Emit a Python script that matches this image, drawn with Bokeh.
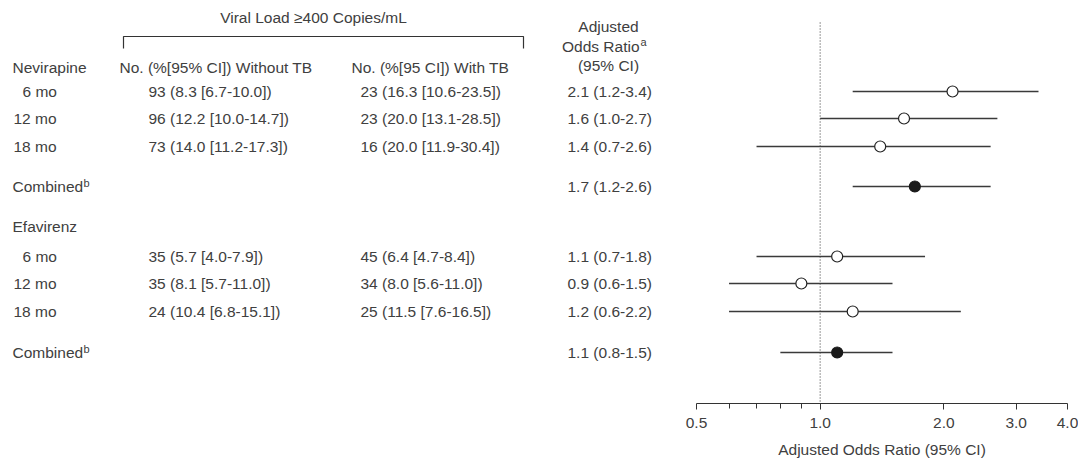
from bokeh.plotting import figure
from bokeh.layouts import row
from bokeh.models import Range1d, FixedTicker, PrintfTickFormatter
from bokeh.core.properties import value
from bokeh.embed import file_html
from bokeh.resources import INLINE

# ---------------- data ----------------
drugs = ["Nevirapine", "Efavirenz"]
periods = ["6 mo", "12 mo", "18 mo"]

nvp_n_without = [93, 96, 73]
nvp_pct_without = [8.3, 12.2, 14.0]
nvp_lo_without = [6.7, 10.0, 11.2]
nvp_hi_without = [10.0, 14.7, 17.3]
nvp_n_with = [23, 23, 16]
nvp_pct_with = [16.3, 20.0, 20.0]
nvp_lo_with = [10.6, 13.1, 11.9]
nvp_hi_with = [23.5, 28.5, 30.4]
nvp_or = [2.1, 1.6, 1.4]
nvp_or_lo = [1.2, 1.0, 0.7]
nvp_or_hi = [3.4, 2.7, 2.6]
nvp_comb = [1.7, 1.2, 2.6]

efv_n_without = [35, 35, 24]
efv_pct_without = [5.7, 8.1, 10.4]
efv_lo_without = [4.0, 5.7, 6.8]
efv_hi_without = [7.9, 11.0, 15.1]
efv_n_with = [45, 34, 25]
efv_pct_with = [6.4, 8.0, 11.5]
efv_lo_with = [4.7, 5.6, 7.6]
efv_hi_with = [8.4, 11.0, 16.5]
efv_or = [1.1, 0.9, 1.2]
efv_or_lo = [0.7, 0.6, 0.6]
efv_or_hi = [1.8, 1.5, 2.2]
efv_comb = [1.1, 0.8, 1.5]

axis_ticks = [0.5, 1.0, 2.0, 3.0, 4.0]
axis_minor = [0.6, 0.7, 0.8, 0.9]

# ---------------- layout (page pixels) ----------------
FONT = value("Liberation Sans")
FS = "15.5px"
TXT = "#404040"
AXIS_Y = 403
LEFT_W = 674

hdr_y = 67
nvp_rows = [91, 118, 146]
nvp_comb_y = 186
efv_hdr_y = 226
efv_rows = [256, 283, 311]
efv_comb_y = 352

col_label = 13
col_label6 = 22
col2 = 148
col3 = 360
col4 = 567


def cell(n, p, lo, hi):
    return f"{n} ({p:.1f} [{lo:.1f}-{hi:.1f}])"


def orcell(o, lo, hi):
    return f"{o:.1f} ({lo:.1f}-{hi:.1f})"


left = figure(frame_width=LEFT_W, frame_height=AXIS_Y, x_range=Range1d(0, LEFT_W),
              y_range=Range1d(AXIS_Y, 0), output_backend="svg",
              toolbar_location=None, min_border=0, outline_line_color=None,
              x_axis_location=None, y_axis_location=None)
left.grid.visible = False

xs, ys, ts = [], [], []


def add(x, y, t):
    xs.append(x); ys.append(y); ts.append(t)


add(12, hdr_y, drugs[0])
add(12, efv_hdr_y, drugs[1])
add(119, hdr_y, "No. (%[95% CI]) Without TB")
add(351, hdr_y, "No. (%[95 CI]) With TB")
for i, per in enumerate(periods):
    lx = col_label6 if i == 0 else col_label
    add(lx, nvp_rows[i], per)
    add(col2, nvp_rows[i], cell(nvp_n_without[i], nvp_pct_without[i], nvp_lo_without[i], nvp_hi_without[i]))
    add(col3, nvp_rows[i], cell(nvp_n_with[i], nvp_pct_with[i], nvp_lo_with[i], nvp_hi_with[i]))
    add(col4, nvp_rows[i], orcell(nvp_or[i], nvp_or_lo[i], nvp_or_hi[i]))
    add(lx, efv_rows[i], per)
    add(col2, efv_rows[i], cell(efv_n_without[i], efv_pct_without[i], efv_lo_without[i], efv_hi_without[i]))
    add(col3, efv_rows[i], cell(efv_n_with[i], efv_pct_with[i], efv_lo_with[i], efv_hi_with[i]))
    add(col4, efv_rows[i], orcell(efv_or[i], efv_or_lo[i], efv_or_hi[i]))
add(12, nvp_comb_y, "Combined")
add(12, efv_comb_y, "Combined")
add(col4, nvp_comb_y, orcell(*nvp_comb))
add(col4, efv_comb_y, orcell(*efv_comb))

left.text(x=xs, y=ys, text=ts, text_font=FONT, text_font_size=FS, text_color=TXT,
          text_baseline="middle", text_align="left")

# centered headers
left.text(x=[313, 608, 608], y=[17, 26, 65],
          text=["Viral Load \u2265400 Copies/mL", "Adjusted", "(95% CI)"],
          text_font=FONT, text_font_size=FS, text_color=TXT,
          text_baseline="middle", text_align="center")
left.text(x=[639], y=[46], text=["Odds Ratio"], text_font=FONT, text_font_size=FS,
          text_color=TXT, text_baseline="middle", text_align="right")
# superscripts
left.text(x=[640, 83, 83], y=[41, nvp_comb_y - 4, efv_comb_y - 4], text=["a", "b", "b"],
          text_font=FONT, text_font_size="11px", text_color=TXT,
          text_baseline="middle", text_align="left")
# bracket
left.line(x=[123, 123, 523, 523], y=[48, 36, 36, 48], line_color="#333333", line_width=1.2)

# ---------------- forest plot ----------------
right = figure(frame_width=371, frame_height=AXIS_Y, x_axis_type="log",
               x_range=Range1d(0.5, 4.0), y_range=Range1d(AXIS_Y, 0),
               output_backend="svg", toolbar_location=None,
               min_border_left=22, min_border_right=11, min_border_top=0, min_border_bottom=0,
               outline_line_color=None, y_axis_location=None)
right.grid.visible = False

right.segment(x0=[1.0], y0=[22], x1=[1.0], y1=[AXIS_Y], line_color="#555555",
              line_width=1.2, line_dash="1 2")

pt_y = nvp_rows + efv_rows
pt_or = nvp_or + efv_or
pt_lo = nvp_or_lo + efv_or_lo
pt_hi = nvp_or_hi + efv_or_hi
cb_y = [nvp_comb_y, efv_comb_y]
cb_or = [nvp_comb[0], efv_comb[0]]
cb_lo = [nvp_comb[1], efv_comb[1]]
cb_hi = [nvp_comb[2], efv_comb[2]]

right.segment(x0=pt_lo + cb_lo, y0=pt_y + cb_y, x1=pt_hi + cb_hi, y1=pt_y + cb_y,
              line_color="#3a3a3a", line_width=1.3)
right.scatter(x=pt_or, y=pt_y, size=11, fill_color="white", line_color="#222222", line_width=1.2)
right.scatter(x=cb_or, y=cb_y, size=11, fill_color="#1a1a1a", line_color="#1a1a1a", line_width=1.2)

ax = right.xaxis[0]
ax.ticker = FixedTicker(ticks=axis_ticks, minor_ticks=axis_minor)
ax.formatter = PrintfTickFormatter(format="%.1f")
ax.axis_label = "Adjusted Odds Ratio (95% CI)"
ax.axis_label_text_font = "Liberation Sans"
ax.axis_label_text_font_size = FS
ax.axis_label_text_font_style = "normal"
ax.axis_label_text_color = TXT
ax.axis_label_standoff = 10
ax.major_label_text_font = "Liberation Sans"
ax.major_label_text_font_size = FS
ax.major_label_text_color = TXT
ax.major_label_standoff = 8
ax.axis_line_color = "#333333"
ax.axis_line_width = 1.2
ax.major_tick_line_color = "#333333"
ax.minor_tick_line_color = "#333333"
ax.major_tick_in = 0
ax.major_tick_out = 6
ax.minor_tick_in = 0
ax.minor_tick_out = 5

layout = row(left, right, spacing=0)
open("out.html", "w").write(file_html(layout, INLINE))
